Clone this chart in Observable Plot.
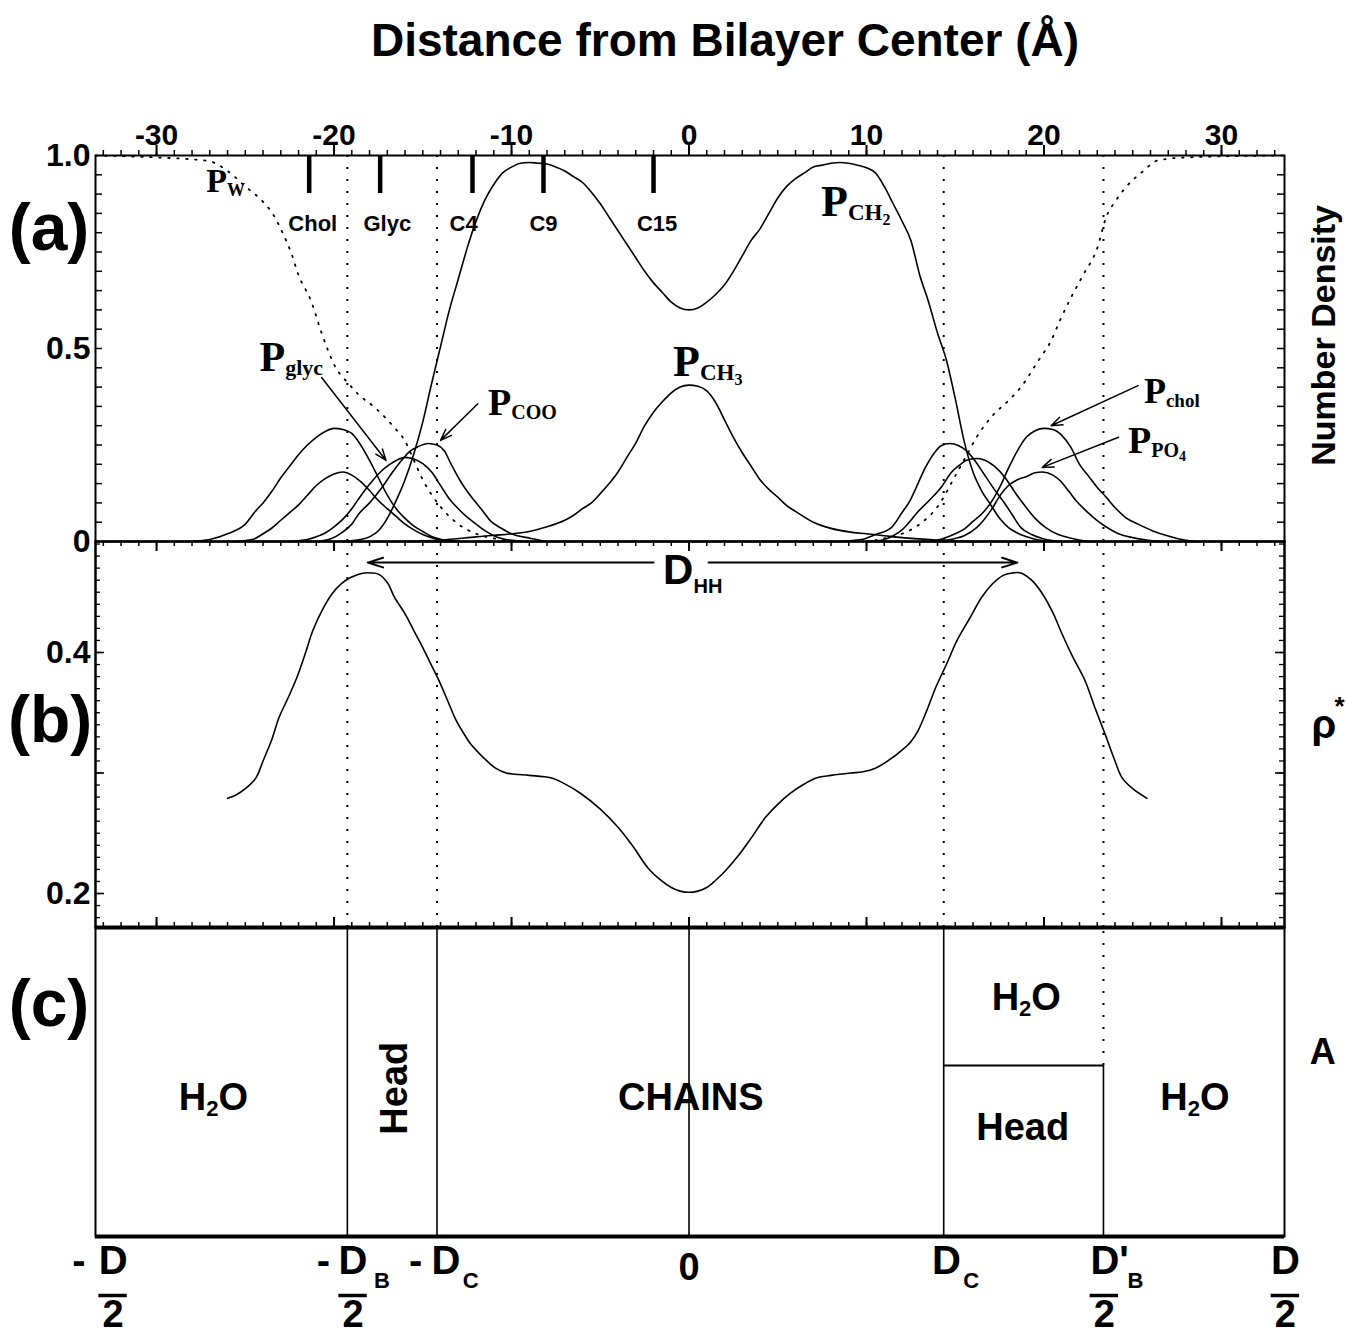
<!DOCTYPE html>
<html>
<head>
<meta charset="utf-8">
<script src="https://cdn.jsdelivr.net/npm/d3@7"></script>
<script src="https://cdn.jsdelivr.net/npm/@observablehq/plot@0.6"></script>
<style>
  html, body { margin: 0; padding: 0; background: #fff; overflow: hidden; }
  #fig { position: relative; width: 1346px; height: 1344px; background: #fff; }
  #title { position: absolute; left: 104px; width: 1242px; top: 17px; text-align: center;
           font: bold 46px/1 "Liberation Sans", Arial, sans-serif; color: #000; white-space: nowrap; }
  .panel { position: absolute; left: 0; }
  .panel svg { overflow: visible; }
</style>
</head>
<body>
<div id="fig">
  <div id="title">Distance from Bilayer Center (Å)</div>
  <div class="panel" id="pa" style="top:70px"></div>
  <div class="panel" id="pb" style="top:541px"></div>
  <div class="panel" id="pc" style="top:927px"></div>
</div>
<script>
// ---------------- DATA ----------------
// x axis (distance from bilayer centre, Å)
const xDomain = [-33.44, 33.55];
const xMajorTicks = [-30, -20, -10, 0, 10, 20, 30];
const xTickLabels = ["-30", "-20", "-10", "0", "10", "20", "30"];
const xMinorTicks = d3.range(-33, 34, 1);

// boundaries: -D_B/2, -D_C, D_C, D'_B/2
const dividerZ = [-19.25, -14.2, 14.35, 23.35];
const solidDividersC = [-19.25, -14.2, 0, 14.35];
const headEdgeRight = 23.35;
const chainEdgeRight = 14.35;
const headLevelC = 0.553;

// panel (a) y axis
const yTicksA = [0, 0.5, 1.0];
const yTickLabelsA = ["0", "0.5", "1.0"];
const yMinorA = d3.range(1, 20).map(i => i * 0.05);

// panel (b) y axis
const yDomainB = [0.1718, 0.4921];
const yTicksB = [0.2, 0.4];
const yTickLabelsB = ["0.2", "0.4"];
const yMinorB = d3.range(18, 50).map(i => i / 100);
const yMajorB = [0.2, 0.3, 0.4];

// carbon / group markers at top of (a)
const markerNames = ["Chol", "Glyc", "C4", "C9", "C15"];
const markerZ = [-21.4, -17.4, -12.2, -8.2, -2.0];
const markerLabelZ = [-21.2, -17.0, -12.7, -8.2, -1.8];

// panel (a) number-density profiles [z, P]
const waterLeft = [[-33.4,1.0],[-30,0.995],[-28,0.99],[-27,0.985],[-26,0.96],[-25,0.92],[-24,0.88],[-23.4,0.845],[-22.9,0.8],[-22.4,0.746],[-22,0.69],[-21.3,0.624],[-20.7,0.54],[-19.9,0.45],[-19.2,0.41],[-18.6,0.38],[-17.7,0.347],[-16.6,0.295],[-16,0.26],[-15.5,0.21],[-15,0.16],[-14,0.09],[-13,0.045],[-12,0.02],[-11,0.008],[-10,0]];
const waterRight = [[10,0],[11,0.008],[12,0.02],[13,0.045],[14,0.09],[15,0.17],[15.6,0.22],[16.2,0.27],[17.1,0.326],[18,0.365],[18.7,0.4],[19.7,0.47],[20.4,0.52],[20.9,0.573],[21.5,0.63],[22.2,0.69],[23,0.76],[23.5,0.84],[24,0.88],[24.6,0.917],[25.6,0.96],[26.4,0.987],[28,0.995],[33.5,1.0]];
const ch2Profile = [[-19.5,0],[-18.5,0.005],[-17.5,0.028],[-17,0.06],[-16.5,0.106],[-16,0.16],[-15.5,0.228],[-15,0.31],[-14.5,0.41],[-14,0.505],[-13.5,0.6],[-13,0.68],[-12.5,0.76],[-12,0.83],[-11.5,0.885],[-11,0.925],[-10.5,0.955],[-10,0.97],[-9.5,0.98],[-9,0.982],[-8.5,0.98],[-8,0.978],[-7.5,0.97],[-7,0.96],[-6.5,0.945],[-6,0.93],[-5.5,0.905],[-5,0.875],[-4.5,0.84],[-4,0.805],[-3.5,0.77],[-3,0.735],[-2.5,0.7],[-2,0.67],[-1.5,0.645],[-1,0.62],[-0.5,0.605],[0,0.6],[0.5,0.605],[1,0.62],[1.5,0.64],[2,0.665],[2.5,0.7],[3,0.74],[3.5,0.78],[4,0.81],[4.5,0.85],[5,0.89],[5.5,0.92],[6,0.94],[6.5,0.955],[7,0.97],[7.5,0.975],[8,0.98],[8.5,0.982],[9,0.98],[9.5,0.975],[10,0.968],[10.5,0.955],[11,0.92],[11.5,0.875],[12,0.83],[12.5,0.78],[13,0.69],[13.5,0.62],[14,0.54],[14.5,0.47],[15,0.37],[15.5,0.26],[16,0.18],[16.5,0.13],[17,0.095],[17.5,0.06],[18,0.036],[18.5,0.022],[19.5,0.006],[20.5,0]];
const ch3Profile = [[-16,0],[-14,0.004],[-12,0.012],[-11,0.016],[-10,0.02],[-9,0.026],[-8,0.038],[-7,0.055],[-6.5,0.068],[-6,0.085],[-5.5,0.1],[-5,0.124],[-4.5,0.15],[-4,0.18],[-3.5,0.218],[-3,0.255],[-2.5,0.3],[-2,0.335],[-1.5,0.362],[-1,0.385],[-0.5,0.4],[0,0.405],[0.5,0.402],[1,0.39],[1.5,0.36],[2,0.315],[2.5,0.27],[3,0.23],[3.5,0.195],[4,0.16],[4.5,0.135],[5,0.115],[5.5,0.093],[6,0.078],[7,0.05],[8,0.034],[9,0.025],[10,0.02],[11,0.015],[12,0.01],[14,0.004],[16,0]];
const cholLeft = [[-28,0],[-27,0.005],[-26,0.02],[-25,0.045],[-24.4,0.08],[-24,0.1],[-23.5,0.13],[-23,0.165],[-22.5,0.195],[-22,0.225],[-21.5,0.25],[-21,0.27],[-20.5,0.285],[-20,0.293],[-19.5,0.29],[-19,0.28],[-18.5,0.25],[-18,0.21],[-17.5,0.165],[-17,0.12],[-16.5,0.085],[-16,0.06],[-15.5,0.04],[-15,0.026],[-14.5,0.013],[-14,0.006],[-13,0]];
const cholRight = [[13.5,0],[14.2,0.006],[15,0.02],[15.5,0.032],[16,0.052],[16.5,0.072],[17,0.1],[17.5,0.14],[18,0.19],[18.5,0.235],[19,0.27],[19.5,0.287],[20,0.293],[20.5,0.29],[21,0.275],[21.5,0.245],[22,0.2],[22.5,0.17],[23,0.14],[23.5,0.115],[24,0.088],[24.6,0.062],[25.3,0.045],[26.1,0.028],[27,0.014],[27.5,0.008],[28.5,0]];
const po4Left = [[-25.5,0],[-24.6,0.005],[-24,0.02],[-23.5,0.035],[-23,0.055],[-22.5,0.075],[-22,0.095],[-21.5,0.12],[-21,0.145],[-20.5,0.163],[-20,0.175],[-19.5,0.18],[-19,0.172],[-18.5,0.155],[-18,0.132],[-17.5,0.106],[-17,0.085],[-16.5,0.065],[-16,0.045],[-15.5,0.03],[-15,0.018],[-14.5,0.01],[-14,0.004],[-13,0]];
const po4Right = [[14,0],[15,0.008],[15.5,0.015],[16.2,0.036],[16.5,0.05],[17,0.08],[17.6,0.124],[18,0.145],[18.5,0.16],[19,0.168],[19.5,0.178],[19.9,0.18],[20.5,0.172],[20.9,0.158],[21.4,0.13],[21.8,0.106],[22.4,0.078],[23,0.054],[23.6,0.035],[24.2,0.02],[25,0.01],[25.6,0.005],[26.5,0]];
const glycLeft = [[-22.5,0],[-21.5,0.005],[-21,0.012],[-20.5,0.022],[-20,0.038],[-19.5,0.058],[-19,0.085],[-18.5,0.118],[-18,0.148],[-17.5,0.175],[-17,0.195],[-16.5,0.21],[-16,0.218],[-15.5,0.214],[-15,0.202],[-14.5,0.18],[-14,0.145],[-13.5,0.11],[-13,0.085],[-12.5,0.063],[-12,0.045],[-11.5,0.028],[-11,0.015],[-10.5,0.007],[-10,0.003],[-9,0]];
const glycRight = [[10,0],[10.9,0.004],[11.5,0.015],[12,0.03],[12.5,0.055],[12.8,0.072],[13.5,0.105],[14.2,0.14],[14.8,0.18],[15.3,0.2],[15.6,0.21],[16.2,0.215],[16.6,0.212],[17.2,0.195],[17.8,0.166],[18.4,0.125],[19,0.088],[19.5,0.06],[20.1,0.036],[20.8,0.018],[21.6,0.008],[22.5,0]];
const cooLeft = [[-21,0],[-20.3,0.005],[-19.5,0.025],[-19,0.045],[-18.6,0.072],[-18,0.1],[-17.3,0.14],[-16.7,0.18],[-16.2,0.21],[-15.7,0.235],[-15.3,0.245],[-14.7,0.254],[-14.2,0.25],[-13.8,0.236],[-13.4,0.2],[-12.9,0.158],[-12.5,0.13],[-12.1,0.106],[-11.6,0.078],[-11.2,0.054],[-10.6,0.035],[-10,0.02],[-8.9,0.008],[-8,0]];
const cooRight = [[8.5,0],[9.7,0.005],[10.5,0.018],[11.4,0.036],[12,0.075],[12.5,0.11],[12.8,0.14],[13.3,0.19],[13.8,0.228],[14.2,0.248],[14.7,0.254],[15.2,0.248],[15.6,0.236],[16.1,0.21],[16.6,0.176],[17.2,0.135],[17.8,0.098],[18.2,0.07],[18.7,0.036],[19.3,0.018],[19.9,0.008],[21,0]];

// panel (b) rho* profile [z, rho*]
const rhoStar = [[-26,0.279],[-25.5,0.282],[-25,0.287],[-24.4,0.296],[-24,0.31],[-23.5,0.328],[-23.1,0.346],[-22.6,0.362],[-22.1,0.379],[-21.6,0.4],[-21.2,0.418],[-20.6,0.437],[-20.1,0.449],[-19.6,0.457],[-19.1,0.462],[-18.6,0.465],[-18.3,0.466],[-17.9,0.466],[-17.5,0.465],[-17,0.458],[-16.6,0.446],[-16,0.432],[-15.5,0.418],[-15.1,0.407],[-14.6,0.392],[-14.1,0.377],[-13.6,0.36],[-13.1,0.343],[-12.7,0.333],[-12.3,0.324],[-11.6,0.313],[-10.9,0.304],[-10.3,0.3],[-9.8,0.299],[-9,0.298],[-7.8,0.296],[-7,0.291],[-6.1,0.283],[-5,0.27],[-4,0.255],[-3.2,0.24],[-2.3,0.221],[-1.5,0.21],[-1,0.205],[-0.5,0.202],[0,0.201],[0.5,0.202],[1,0.205],[1.5,0.211],[2,0.218],[2.7,0.23],[3.5,0.246],[4.3,0.263],[5,0.274],[5.7,0.283],[6.4,0.29],[7.2,0.296],[8,0.298],[9.1,0.3],[9.8,0.301],[10.5,0.304],[11.2,0.31],[12,0.319],[12.5,0.326],[12.9,0.335],[13.4,0.352],[13.9,0.371],[14.5,0.39],[15.1,0.41],[15.8,0.428],[16.5,0.446],[17.1,0.457],[17.7,0.464],[18.2,0.466],[18.7,0.466],[19.3,0.46],[19.9,0.449],[20.5,0.433],[21,0.416],[21.6,0.397],[22.3,0.377],[22.9,0.353],[23.5,0.33],[24,0.31],[24.4,0.296],[25,0.287],[25.8,0.279]];

// ---------------- ANNOTATIONS ----------------
const curveLabelsA = [
  {x: -27.2, y: 0.933, main: "P", sub: "W"},
  {x: 7.44, y: 0.881, main: "P", sub: "CH", sub2: "2"},
  {x: -0.9, y: 0.466, main: "P", sub: "CH", sub2: "3"},
  {x: -24.2, y: 0.477, main: "P", sub: "glyc"},
  {x: -11.32, y: 0.36, main: "P", sub: "COO"},
  {x: 25.63, y: 0.389, main: "P", sub: "chol"},
  {x: 24.73, y: 0.262, main: "P", sub: "PO", sub2: "4"}
];
const curveLabelSizes = [34, 44, 44, 42, 38, 36, 38];
const arrowsA = [
  {x1: -20.7, y1: 0.425, x2: -17.07, y2: 0.21},
  {x1: -11.9, y1: 0.357, x2: -14.0, y2: 0.262},
  {x1: 25.3, y1: 0.404, x2: 20.4, y2: 0.3},
  {x1: 24.2, y1: 0.27, x2: 19.9, y2: 0.192}
];
const arrowsB = [
  {x1: -2.0, y1: 0.4746, x2: -18.1, y2: 0.4746},
  {x1: 1.1, y1: 0.4746, x2: 18.5, y2: 0.4746}
];

// ---------------- HELPERS ----------------
const W = 1346, ML = 95, MR = 62, PW = W - ML - MR;
const sans = "'Liberation Sans', Arial, Helvetica, sans-serif";
const serif = "'Liberation Serif', 'Times New Roman', serif";
const ctx = document.createElement("canvas").getContext("2d");
function tw(t, size, family) { ctx.font = `bold ${size}px ${family}`; return ctx.measureText(t).width; }
function richText(item, parts, family = sans, anchor = "middle") {
  const widths = parts.map(p => tw(p.t, p.size, family));
  const total = d3.sum(widths);
  let dx = anchor === "middle" ? -total / 2 : anchor === "end" ? -total : 0;
  return parts.map((p, i) => {
    const m = Plot.text([item], {x: "x", y: "y", text: () => p.t, textAnchor: "start", lineAnchor: "middle",
      dx, dy: p.dy || 0, fontSize: p.size, fontFamily: family, fontWeight: "bold", fill: "black"});
    dx += widths[i];
    return m;
  });
}
const pairLine = (arr, opts = {}) => Plot.line(arr, {x: d => d[0], y: d => d[1], stroke: "black", strokeWidth: 1.6, curve: "monotone-x", ...opts});
const common = {width: W, marginLeft: ML, marginRight: MR,
  x: {domain: xDomain, axis: null},
  style: {background: "transparent", overflow: "visible", fontFamily: sans, color: "black"}};
const bold = {fontWeight: "bold", fill: "black", fontFamily: sans};

// ---------------- PANEL (a) ----------------
const hA = 386;
const labelMarksA = curveLabelsA.flatMap((l, i) => {
  const s = curveLabelSizes[i];
  const parts = [{t: l.main, size: s}];
  if (l.sub) parts.push({t: l.sub, size: Math.round(s * 0.52), dy: s * 0.26});
  if (l.sub2) parts.push({t: l.sub2, size: Math.round(s * 0.36), dy: s * 0.42});
  return richText(l, parts, serif, "start");
});
const plotA = Plot.plot({
  ...common, height: 471, marginTop: 85, marginBottom: 0,
  y: {domain: [0, 1], axis: null},
  marks: [
    Plot.ruleX(dividerZ, {x: d => d, stroke: "black", strokeWidth: 2, strokeDasharray: "2,10"}),
    pairLine(waterLeft, {strokeWidth: 1.8, strokeDasharray: "1.5,7.5"}),
    pairLine(waterRight, {strokeWidth: 1.8, strokeDasharray: "1.5,7.5"}),
    ...[ch2Profile, ch3Profile, cholLeft, cholRight, po4Left, po4Right, glycLeft, glycRight, cooLeft, cooRight].map(a => pairLine(a)),
    Plot.ruleX(markerZ, {x: d => d, insetBottom: hA - 38, strokeWidth: 4.5, stroke: "black"}),
    Plot.text(markerNames, {x: (d, i) => markerLabelZ[i], text: d => d, frameAnchor: "top", dy: 60, fontSize: 22, ...bold}),
    Plot.arrow(arrowsA, {x1: "x1", y1: "y1", x2: "x2", y2: "y2", stroke: "black", strokeWidth: 1.5, headLength: 12, headAngle: 40}),
    ...labelMarksA,
    Plot.frame({stroke: "black", strokeWidth: 2}),
    Plot.ruleX(xMinorTicks, {x: d => d, insetTop: -5, insetBottom: hA, strokeWidth: 1.5, stroke: "black"}),
    Plot.ruleX(xMajorTicks, {x: d => d, insetTop: -10, insetBottom: hA, strokeWidth: 2, stroke: "black"}),
    Plot.ruleY(yMinorA, {y: d => d, insetRight: PW - 7, strokeWidth: 1.5, stroke: "black"}),
    Plot.ruleY(yMinorA, {y: d => d, insetLeft: PW - 7, strokeWidth: 1.5, stroke: "black"}),
    Plot.text(xMajorTicks, {x: d => d, text: (d, i) => xTickLabels[i], frameAnchor: "top", dy: -32, fontSize: 30, ...bold}),
    Plot.text(yTicksA, {y: d => d, text: (d, i) => yTickLabelsA[i], frameAnchor: "left", textAnchor: "end", dx: -5, fontSize: 32, ...bold}),
    Plot.text(["(a)"], {x: -36.06, y: 0.811, text: d => d, fontSize: 66, ...bold}),
    Plot.text(["Number Density"], {x: 35.77, y: 0.534, text: d => d, rotate: -90, fontSize: 34, ...bold})
  ]
});
document.getElementById("pa").appendChild(plotA);

// ---------------- PANEL (b) ----------------
const hB = 386;
const plotB = Plot.plot({
  ...common, height: 386, marginTop: 0, marginBottom: 0,
  y: {domain: yDomainB, axis: null},
  marks: [
    Plot.ruleX(dividerZ, {x: d => d, stroke: "black", strokeWidth: 2, strokeDasharray: "2,10"}),
    pairLine(rhoStar, {strokeWidth: 1.6, curve: "catmull-rom"}),
    Plot.arrow(arrowsB, {x1: "x1", y1: "y1", x2: "x2", y2: "y2", stroke: "black", strokeWidth: 2, headLength: 12, headAngle: 35}),
    ...richText({x: -1.46, y: 0.468}, [{t: "D", size: 42}, {t: "HH", size: 20, dy: 16}], sans, "start"),
    Plot.frame({stroke: "black", strokeWidth: 2.5}),
    Plot.ruleX(xMinorTicks, {x: d => d, insetBottom: hB - 5, strokeWidth: 1.5, stroke: "black"}),
    Plot.ruleX(xMajorTicks, {x: d => d, insetBottom: hB - 10, strokeWidth: 2, stroke: "black"}),
    Plot.ruleX(xMinorTicks, {x: d => d, insetTop: hB - 5, strokeWidth: 1.5, stroke: "black"}),
    Plot.ruleX(xMajorTicks, {x: d => d, insetTop: hB - 10, strokeWidth: 2, stroke: "black"}),
    Plot.ruleY(yMinorB, {y: d => d, insetRight: PW - 5, strokeWidth: 1.3, stroke: "black"}),
    Plot.ruleY(yMinorB, {y: d => d, insetLeft: PW - 5, strokeWidth: 1.3, stroke: "black"}),
    Plot.ruleY(yMajorB, {y: d => d, insetRight: PW - 9, strokeWidth: 1.6, stroke: "black"}),
    Plot.ruleY(yMajorB, {y: d => d, insetLeft: PW - 9, strokeWidth: 1.6, stroke: "black"}),
    Plot.text(yTicksB, {y: d => d, text: (d, i) => yTickLabelsB[i], frameAnchor: "left", textAnchor: "end", dx: -5, fontSize: 32, ...bold}),
    Plot.text(["(b)"], {x: -36.0, y: 0.3436, text: d => d, fontSize: 66, ...bold}),
    Plot.text(["ρ"], {x: 35.77, y: 0.3394, text: d => d, fontSize: 40, ...bold}),
    Plot.text(["*"], {x: 36.65, y: 0.355, text: d => d, fontSize: 26, ...bold})
  ]
});
document.getElementById("pb").appendChild(plotB);

// ---------------- PANEL (c) ----------------
const h2o = s => [{t: "H", size: s}, {t: "2", size: Math.round(s * 0.58), dy: s * 0.3}, {t: "O", size: s}];
const bottomBig = [{x: -34.37, t: "-"}, {x: -32.45, t: "D"}, {x: -20.6, t: "-"}, {x: -18.93, t: "D"}, {x: -15.4, t: "-"}, {x: -13.7, t: "D"}, {x: 14.5, t: "D"}, {x: 23.7, t: "D'"}, {x: 33.6, t: "D"}];
const bottomSubs = [{x: -17.3, t: "B"}, {x: -12.3, t: "C"}, {x: 15.9, t: "C"}, {x: 25.15, t: "B"}];
const bottomDenoms = [{x: -32.45, t: "2"}, {x: -18.93, t: "2"}, {x: 23.4, t: "2"}, {x: 33.6, t: "2"}];
const plotC = Plot.plot({
  ...common, height: 417, marginTop: 0, marginBottom: 108,
  y: {domain: [0, 1], axis: null},
  marks: [
    Plot.frame({stroke: "black", strokeWidth: 2}),
    Plot.ruleY([0, 1], {y: d => d, stroke: "black", strokeWidth: 4}),
    Plot.ruleX(solidDividersC, {x: d => d, stroke: "black", strokeWidth: 1.6}),
    Plot.ruleX([{x: headEdgeRight, y1: 0, y2: headLevelC}], {x: "x", y1: "y1", y2: "y2", stroke: "black", strokeWidth: 1.6}),
    Plot.ruleX([{x: headEdgeRight, y1: headLevelC, y2: 1}], {x: "x", y1: "y1", y2: "y2", stroke: "black", strokeWidth: 2, strokeDasharray: "2,10"}),
    Plot.ruleY([{y: headLevelC, x1: chainEdgeRight, x2: headEdgeRight}], {y: "y", x1: "x1", x2: "x2", stroke: "black", strokeWidth: 2}),
    ...richText({x: -26.8, y: 0.45}, h2o(38)),
    ...richText({x: 19.0, y: 0.773}, h2o(38)),
    ...richText({x: 28.5, y: 0.45}, h2o(38)),
    Plot.text(["Head"], {x: -16.6, y: 0.48, text: d => d, rotate: -90, fontSize: 38, ...bold}),
    Plot.text(["CHAINS"], {x: 0.1, y: 0.45, text: d => d, fontSize: 38, ...bold}),
    Plot.text(["Head"], {x: 18.8, y: 0.353, text: d => d, fontSize: 38, ...bold}),
    Plot.text(["(c)"], {x: -36.06, y: 0.748, text: d => d, fontSize: 66, ...bold}),
    Plot.text(["A"], {x: 35.7, y: 0.595, text: d => d, fontSize: 36, ...bold}),
    Plot.text(bottomBig, {x: "x", text: "t", frameAnchor: "bottom", dy: 37, fontSize: 40, ...bold}),
    Plot.text(["0"], {x: 0, text: d => d, frameAnchor: "bottom", dy: 43, fontSize: 38, ...bold}),
    Plot.text(bottomSubs, {x: "x", text: "t", frameAnchor: "bottom", dy: 51, fontSize: 22, ...bold}),
    Plot.ruleY(bottomDenoms, {y: 0, x1: d => d.x - 0.8, x2: d => d.x + 0.8, dy: 59, stroke: "black", strokeWidth: 3.5}),
    Plot.text(bottomDenoms, {x: "x", text: "t", frameAnchor: "bottom", dy: 90, fontSize: 38, ...bold})
  ]
});
document.getElementById("pc").appendChild(plotC);
</script>
</body>
</html>
